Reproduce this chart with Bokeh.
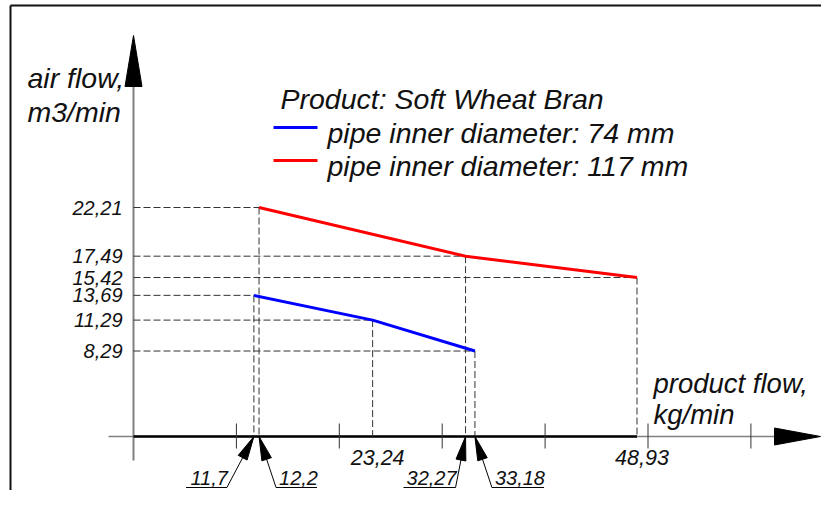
import numpy as np
from bokeh.plotting import figure
from bokeh.models import Range1d
from bokeh.core.properties import value
from bokeh.embed import file_html
from bokeh.resources import INLINE

# ---------------- data ----------------
series_names = ["pipe inner diameter: 74 mm", "pipe inner diameter: 117 mm"]
series_colors = ["#0000ff", "#ff0000"]
blue_x = [11.7, 23.24, 33.18]
blue_y = [13.69, 11.29, 8.29]
red_x = [12.2, 32.27, 48.93]
red_y = [22.21, 17.49, 15.42]
x_ticks = [10, 20, 30, 40, 50, 60]
legend_title = "Product: Soft Wheat Bran"
y_title = ["air flow,", "m3/min"]
x_title = ["product flow,", "kg/min"]
# how each x value is labelled: leader to the left / right, or plain under the axis
x_label_style = {11.7: "left", 12.2: "right", 23.24: "plain", 32.27: "left", 33.18: "right", 48.93: "plain"}

# ---------------- layout ----------------
W, H = 821, 490
KX, KY = 10.29, 10.31          # pixels per data unit
OX, OY = 133, 436              # origin position inside the canvas (px)
x0 = -OX / KX
y1 = OY / KY
FONT = value("Liberation Sans")
TS = "28.5px"

def dx(px):
    return px / KX

def dy(px):
    return px / KY

def fmt(v):
    return str(v).replace(".", ",")

p = figure(width=W, height=H, output_backend="svg", toolbar_location=None,
           x_range=Range1d(x0, x0 + W / KX), y_range=Range1d(y1 - H / KY, y1),
           min_border=0)
p.axis.visible = False
p.grid.visible = False
p.outline_line_color = None
p.background_fill_color = "white"
p.border_fill_color = "white"

def head(tip, tail, L, Wd):
    tx, ty = tip
    sx, sy = tail
    vx, vy = (sx - tx) * KX, (sy - ty) * KY
    n = np.hypot(vx, vy)
    ux, uy = vx / n, vy / n
    bx, by = ux * L, uy * L
    nx, ny = -uy * Wd / 2, ux * Wd / 2
    xs = [tx, tx + (bx + nx) / KX, tx + (bx - nx) / KX]
    ys = [ty, ty + (by + ny) / KY, ty + (by - ny) / KY]
    return xs, ys

# frame
fx = x0 + dx(10)
fy = y1 - dy(5)
p.line([fx, fx], [y1 - H / KY, fy], line_color="#111111", line_width=2)
p.line([fx, x0 + W / KX], [fy, fy], line_color="#111111", line_width=2)

# y axis
p.line([0, 0], [-dy(24), dy(352)], line_color="#808080", line_width=2)
xs, ys = head((0, dy(401)), (0, 0), 51, 17)
p.patch(xs, ys, fill_color="black", line_color="black")

# x axis
p.line([-dx(25), dx(650)], [0, 0], line_color="#808080", line_width=1.5)
xmax = max(max(blue_x), max(red_x))
p.line([0, xmax], [0, 0], line_color="black", line_width=2.5)
xs, ys = head((dx(687), 0), (0, 0), 46, 17)
p.patch(xs, ys, fill_color="black", line_color="black")
p.segment(x0=x_ticks, x1=x_ticks, y0=[-dy(12)] * len(x_ticks), y1=[dy(13)] * len(x_ticks),
          line_color="#333333", line_width=1)

# dashed helper lines
all_x = blue_x + red_x
all_y = blue_y + red_y
p.segment(x0=[0] * len(all_x), x1=all_x, y0=all_y, y1=all_y,
          line_color="#333333", line_width=1, line_dash="7 3")
p.segment(x0=all_x, x1=all_x, y0=all_y, y1=[0] * len(all_x),
          line_color="#333333", line_width=1, line_dash="7 3")

# series
p.line(blue_x, blue_y, line_color=series_colors[0], line_width=3)
p.line(red_x, red_y, line_color=series_colors[1], line_width=3)

# y value labels
ylab = sorted(set(all_y), reverse=True)
p.text(x=[-dx(11)] * len(ylab), y=ylab, text=[fmt(v) for v in ylab],
       text_font=FONT, text_font_style="italic", text_font_size="20px",
       text_align="right", text_baseline="middle", text_color="#111111")

# x value labels
FS = 20
def text_w(s):
    return sum(0.278 if c == "," else 0.556 for c in s) * FS

plain = [v for v in all_x if x_label_style[v] == "plain"]
p.text(x=[v + dx(5) for v in plain], y=[-dy(21)] * len(plain), text=[fmt(v) for v in plain],
       text_font=FONT, text_font_style="italic", text_font_size="21.5px",
       text_align="center", text_baseline="middle", text_color="#111111")

under_y = -dy(51)
for v in all_x:
    st = x_label_style[v]
    if st == "plain":
        continue
    s = fmt(v)
    w = text_w(s) + 2
    if st == "left":
        off = 27 if v < 20 else 10
        tail_x = v - dx(off)
        p.line([tail_x - dx(w), tail_x], [under_y, under_y], line_color="black", line_width=1)
        p.text(x=[tail_x + dx(1)], y=[under_y + dy(10)], text=[s], text_font=FONT,
               text_font_style="italic", text_font_size="20px", text_align="right",
               text_baseline="alphabetic", text_color="#111111")
    else:
        tail_x = v + dx(17)
        p.line([tail_x, tail_x + dx(w)], [under_y, under_y], line_color="black", line_width=1)
        p.text(x=[tail_x + dx(3)], y=[under_y + dy(10)], text=[s], text_font=FONT,
               text_font_style="italic", text_font_size="20px", text_align="left",
               text_baseline="alphabetic", text_color="#111111")
    p.line([tail_x, v], [under_y, 0], line_color="black", line_width=1)
    xs, ys = head((v, 0), (tail_x, under_y), 24, 10)
    p.patch(xs, ys, fill_color="black", line_color="black")

# axis titles
p.text(x=[-dx(106)] * 2, y=[dy(359), dy(325)], text=y_title, text_font=FONT,
       text_font_style="italic", text_font_size=TS, text_align="left",
       text_baseline="alphabetic", text_color="#111111")
p.text(x=[dx(520)] * 2, y=[dy(53), dy(22)], text=x_title, text_font=FONT,
       text_font_style="italic", text_font_size="27.5px", text_align="left",
       text_baseline="alphabetic", text_color="#111111")

# legend
p.text(x=[dx(147)], y=[dy(338)], text=[legend_title], text_font=FONT,
       text_font_style="italic", text_font_size=TS, text_align="left",
       text_baseline="alphabetic", text_color="#111111")
leg_y = [dy(309), dy(276)]
for name, col, ly in zip(series_names, series_colors, leg_y):
    p.line([dx(140), dx(184)], [ly, ly], line_color=col, line_width=3)
    p.text(x=[dx(194)], y=[ly - dy(5)], text=[name], text_font=FONT,
           text_font_style="italic", text_font_size=TS, text_align="left",
           text_baseline="alphabetic", text_color="#111111")

open("out.html", "w").write(file_html(p, INLINE))
